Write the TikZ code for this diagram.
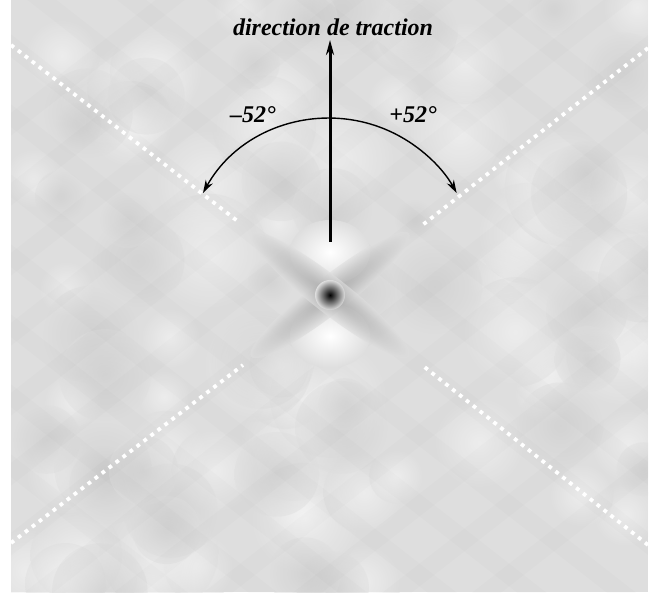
\documentclass[tikz,border=0pt]{standalone}
\usepackage{fontspec}
\setmainfont{Liberation Serif}
\usetikzlibrary{arrows.meta}
\definecolor{film}{HTML}{DEDEDE}

\begin{document}
\begin{tikzpicture}[x=1pt,y=1pt,
dashline/.style={white,line width=3.8pt,dash pattern=on 3.8pt off 5pt},
arr/.style={-{Stealth[length=15pt,width=8pt]},line width=3pt},
arcarr/.style={{Stealth[length=13pt,width=8pt]}-{Stealth[length=13pt,width=8pt]},line width=1.4pt},
lbl/.style={font=\fontsize{24}{26}\selectfont\bfseries\itshape,inner sep=0pt}]
\useasboundingbox (0,0) rectangle (664,592);
% grey pattern
\fill[film] (11,0) rectangle (648,592);
\begin{scope}
\clip (11,0) rectangle (648,592);
\pgfmathsetseed{42}
\foreach \i in {1,...,60}{
  \pgfmathsetmacro\bx{11+637*rnd}
  \pgfmathsetmacro\by{592*rnd}
  \pgfmathsetmacro\br{25+35*rnd}
  \begin{scope}[opacity=.45]
  \shade[inner color=white,outer color=film] (\bx,\by) circle[radius=\br];
  \end{scope}
}
\foreach \i in {1,...,40}{
  \pgfmathsetmacro\bx{11+637*rnd}
  \pgfmathsetmacro\by{592*rnd}
  \pgfmathsetmacro\br{20+30*rnd}
  \begin{scope}[opacity=.45]
  \shade[inner color=black!22,outer color=film] (\bx,\by) circle[radius=\br];
  \end{scope}
}
\foreach \o in {-420,-350,...,420}{
  \draw[black,opacity=.01,line width=18pt] (330,297+\o) -- ++(38:700) (330,297+\o) -- ++(218:700);
  \draw[black,opacity=.01,line width=18pt] (330,297+\o) -- ++(-38:700) (330,297+\o) -- ++(142:700);
}
% central spot
\coordinate (c) at (330,297);
\shade[inner color=white,outer color=film] (330,340) ellipse[x radius=40,y radius=32];
\shade[inner color=white,outer color=film] (330,256) ellipse[x radius=40,y radius=32];
\begin{scope}[transform canvas={rotate around={38:(c)}},opacity=.65]
\shade[inner color=black!40,outer color=film] (c) ellipse[x radius=100,y radius=18];
\end{scope}
\begin{scope}[transform canvas={rotate around={-38:(c)}},opacity=.65]
\shade[inner color=black!40,outer color=film] (c) ellipse[x radius=100,y radius=18];
\end{scope}
\shade[inner color=black,outer color=film] (c) circle[radius=15];
\end{scope}
% dotted guides
\coordinate (tl0) at (11,547);  \coordinate (tl1) at (240,369);
\coordinate (tr0) at (648,544); \coordinate (tr1) at (420,365);
\coordinate (bl0) at (11,49);   \coordinate (bl1) at (243,227);
\coordinate (br0) at (648,47);  \coordinate (br1) at (422,227);
\draw[dashline] (tl0) -- (tl1);
\draw[dashline] (tr0) -- (tr1);
\draw[dashline] (bl0) -- (bl1);
\draw[dashline] (br0) -- (br1);
% arrows
\node[lbl] (dir) at (333,565) {direction de traction};
\node[lbl] (moins) at (253,477) {–52°};
\node[lbl] (plus) at (413,477) {+52°};
\coordinate (base) at (330,350);
\coordinate (tip) at (330,552);
\coordinate (lend) at (203,399);
\draw[arcarr] (lend) arc[start angle=151,end angle=29,radius=145];
\draw[arr] (base) -- (tip);
\end{tikzpicture}
\end{document}
